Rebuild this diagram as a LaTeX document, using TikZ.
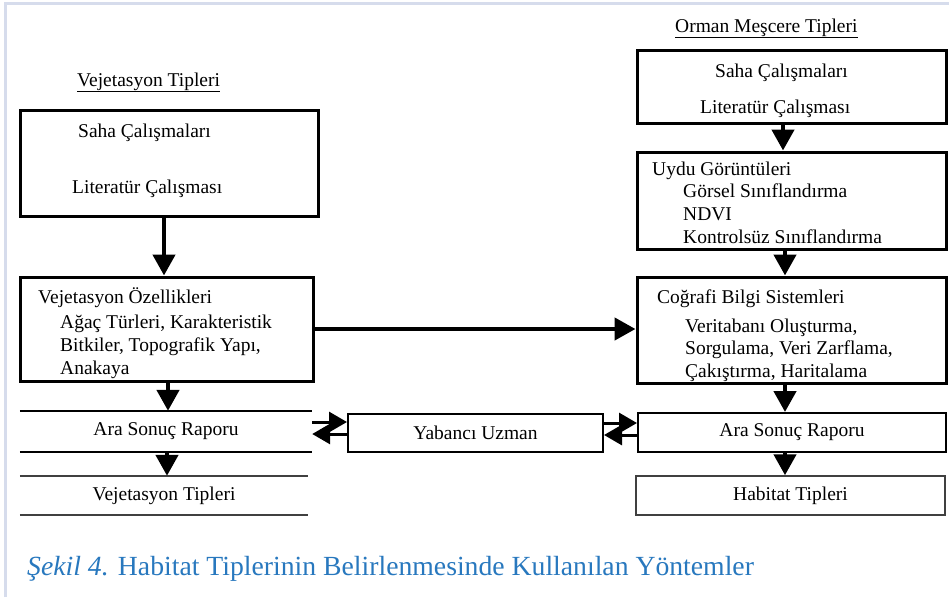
\documentclass[tikz,border=0pt]{standalone}
\usepackage{fontspec}
\setmainfont{Liberation Serif}
\usetikzlibrary{arrows.meta,calc}
\definecolor{framegray}{RGB}{214,220,236}
\definecolor{capblue}{RGB}{40,120,190}
\tikzset{
  bigbox/.style={draw, line width=3pt, inner sep=0pt},
  midbox/.style={draw, line width=2pt, inner sep=0pt, font=\fontsize{19.5}{22}\selectfont},
  thinbox/.style={draw=black!75, line width=1.5pt, inner sep=0pt, font=\fontsize{19.5}{22}\selectfont},
  openbox/.style={inner sep=0pt, font=\fontsize{19.5}{22}\selectfont},
  txt/.style={anchor=base west, inner sep=0pt, font=\fontsize{19.5}{22}\selectfont},
  bigarr/.style={line width=4.5pt, -{Triangle[width=22pt,length=21pt]}},
  smallarr/.style={line width=3pt, -{Triangle[width=20pt,length=18pt]}}
}
\begin{document}
\begin{tikzpicture}[x=1pt,y=-1pt]
\useasboundingbox (0,0) rectangle (949,597);
\draw[framegray, line width=3pt] (5.5,597) -- (5.5,3.8) -- (949,3.8);

\node[txt] (tVeg) at (77,86) {\underline{Vejetasyon Tipleri}};
\node[bigbox, minimum width=298pt, minimum height=106pt] (sahaL) at (169,163) {};
\node[txt] (sahaL1) at (78,137) {Saha Çalışmaları};
\node[txt] (sahaL2) at (72,193) {Literatür Çalışması};
\node[bigbox, minimum width=293pt, minimum height=104pt] (ozL) at (166.5,329) {};
\node[txt] (ozL1) at (38,303) {Vejetasyon Özellikleri};
\node[txt] (ozL2) at (60,328) {Ağaç Türleri, Karakteristik};
\node[txt] (ozL3) at (60,351) {Bitkiler, Topografik Yapı,};
\node[txt] (ozL4) at (60,374) {Anakaya};
\node[openbox, minimum width=292pt, minimum height=41pt] (araL) at (166,431.5) {Ara Sonuç Raporu};
\draw[line width=2pt] (araL.north west) -- (araL.north east) (araL.south west) -- (araL.south east);
\node[openbox, minimum width=288pt, minimum height=39pt] (vegT) at (164,495.5) {Vejetasyon Tipleri};
\draw[black!75, line width=1.5pt] (vegT.north west) -- (vegT.north east) (vegT.south west) -- (vegT.south east);

\node[midbox, minimum width=255pt, minimum height=38pt] (uzman) at (475.5,433) {Yabancı Uzman};

\node[txt] (tOrm) at (675,32) {\underline{Orman Meşcere Tipleri}};
\node[bigbox, minimum width=309pt, minimum height=73pt] (sahaR) at (791.5,86.5) {};
\node[txt] (sahaR1) at (715,77) {Saha Çalışmaları};
\node[txt] (sahaR2) at (700,113) {Literatür Çalışması};
\node[bigbox, minimum width=309pt, minimum height=97pt] (uydu) at (791.5,200.5) {};
\node[txt] (uydu1) at (652,175) {Uydu Görüntüleri};
\node[txt] (uydu2) at (683,197) {Görsel Sınıflandırma};
\node[txt] (uydu3) at (683,220) {NDVI};
\node[txt] (uydu4) at (683,243) {Kontrolsüz Sınıflandırma};
\node[bigbox, minimum width=309pt, minimum height=106pt] (cbs) at (791.5,330) {};
\node[txt] (cbs1) at (657,303) {Coğrafi Bilgi Sistemleri};
\node[txt] (cbs2) at (685,332) {Veritabanı Oluşturma,};
\node[txt] (cbs3) at (685,354) {Sorgulama, Veri Zarflama,};
\node[txt] (cbs4) at (685,377) {Çakıştırma, Haritalama};
\node[midbox, minimum width=308pt, minimum height=39pt] (araR) at (792,432.5) {Ara Sonuç Raporu};
\node[thinbox, minimum width=309pt, minimum height=39pt] (hab) at (790.5,495.5) {Habitat Tipleri};

\draw[bigarr] ($(sahaL.south)+(-5,0)$) -- ($(sahaL.south |- ozL.north)+(-5,0)$);
\draw[bigarr] ($(ozL.south)+(1.5,0)$) -- ($(ozL.south |- araL.north)+(1.5,0)$);
\draw[bigarr] ($(araL.south)+(1,0)$) -- ($(araL.south |- vegT.north)+(1,0)$);
\draw[bigarr] (ozL.east) -- (ozL.east -| cbs.west);
\draw[bigarr] ($(sahaR.south)+(-8.5,0)$) -- ($(sahaR.south |- uydu.north)+(-8.5,0)$);
\draw[bigarr] ($(uydu.south)+(-6.5,0)$) -- ($(uydu.south |- cbs.north)+(-6.5,0)$);
\draw[bigarr] ($(cbs.south)+(-6.5,0)$) -- ($(cbs.south |- araR.north)+(-6.5,0)$);
\draw[bigarr] ($(araR.south)+(-7,0)$) -- ($(araR.south |- hab.north)+(-7,0)$);

\draw[smallarr] ($(araL.east)+(0,-9.5)$) -- ($(araL.east -| uzman.west)+(0,-9.5)$);
\draw[smallarr] ($(uzman.west)+(0,1)$) -- ($(uzman.west -| araL.east)+(0,1)$);
\draw[smallarr] ($(uzman.east)+(0,-10)$) -- ($(uzman.east -| araR.west)+(0,-10)$);
\draw[smallarr] ($(araR.west)+(0,2.5)$) -- ($(araR.west -| uzman.east)+(0,2.5)$);

\node[anchor=base west, inner sep=0pt, text=capblue, font=\fontsize{27.7}{32}\selectfont] (caption) at (27,575) {\textit{Şekil 4.} Habitat Tiplerinin Belirlenmesinde Kullanılan Yöntemler};
\end{tikzpicture}
\end{document}
